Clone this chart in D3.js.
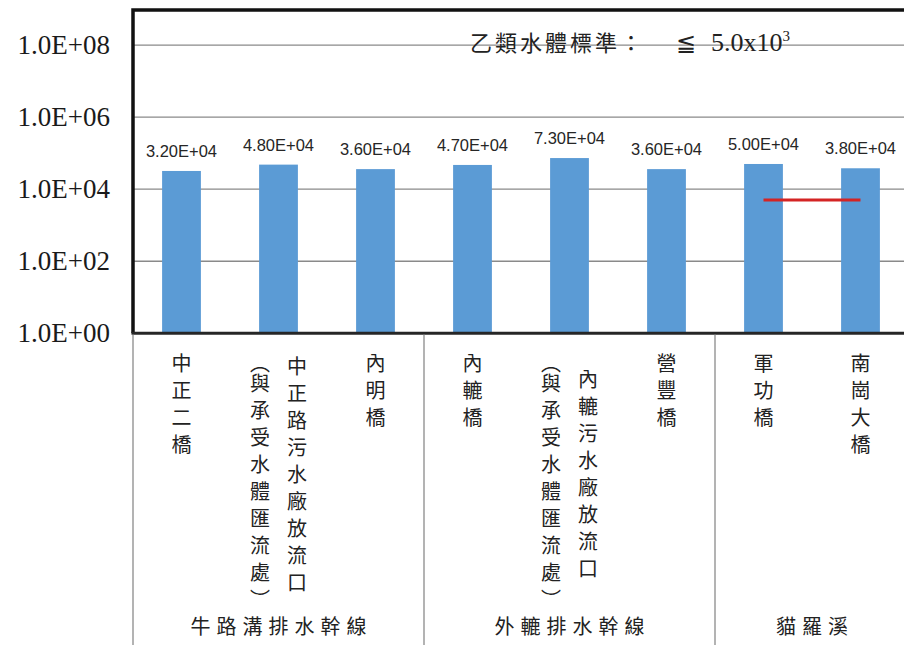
<!DOCTYPE html>
<html>
<head>
<meta charset="utf-8">
<script src="https://cdn.jsdelivr.net/npm/d3@7/dist/d3.min.js"></script>
<style>
    body { margin: 0; background: #ffffff; }
    svg { display: block; }
</style>
</head>
<body>
<svg id="chart" width="904" height="645"></svg>
<script>
// data
var categories = [
    "中正二橋",
    "中正路污水廠放流口\n（與承受水體匯流處）",
    "內明橋",
    "內轆橋",
    "內轆污水廠放流口\n（與承受水體匯流處）",
    "營豐橋",
    "軍功橋",
    "南崗大橋"
];
var values = [3.2e4, 4.8e4, 3.6e4, 4.7e4, 7.3e4, 3.6e4, 5.0e4, 3.8e4];
var groupNames = ["牛路溝排水幹線", "外轆排水幹線", "貓羅溪"];
var groupSizes = [3, 3, 2];
var yTicks = [1, 1e2, 1e4, 1e6, 1e8];
var standardValue = 5.0e3;
var standardFrom = "軍功橋";
var standardTo = "南崗大橋";

var svg = d3.select("#chart");

var plotLeft = 133, plotRight = 909, plotTop = 9, plotBottom = 333.3;

var x = d3.scaleBand()
    .domain(categories)
    .range([plotLeft, plotRight])
    .paddingInner(0.6)
    .paddingOuter(0.3);

var y = d3.scaleLog()
    .domain([1, 1e9])
    .range([plotBottom, plotTop]);

function sciLabel(v) {
    var parts = v.toExponential(2).split("e");
    var exp = parseInt(parts[1], 10);
    var sign = exp < 0 ? "-" : "+";
    var e = Math.abs(exp);
    return parts[0] + "E" + sign + (e < 10 ? "0" + e : e);
}

function tickLabel(v) {
    var exp = Math.round(Math.log10(v));
    return "1.0E+" + (exp < 10 ? "0" + exp : exp);
}

// gridlines
svg.append("g")
    .selectAll("line")
    .data(yTicks)
    .enter()
    .append("line")
    .attr("x1", plotLeft)
    .attr("x2", plotRight)
    .attr("y1", function (d) { return y(d); })
    .attr("y2", function (d) { return y(d); })
    .attr("stroke", "#8a8a8a")
    .attr("stroke-width", 1.3);

// y axis labels
var yAxis = svg.append("g")
    .attr("transform", "translate(" + plotLeft + ",0)")
    .call(d3.axisLeft(y).tickValues(yTicks).tickFormat(tickLabel).tickSize(0).tickPadding(23));
yAxis.select(".domain").remove();
yAxis.selectAll("text")
    .attr("font-family", "'Liberation Serif', 'DejaVu Serif', serif")
    .attr("font-size", "27px")
    .attr("fill", "#1a1a1a");

// standard text
var std = svg.append("text")
    .attr("y", 51)
    .attr("fill", "#222")
    .attr("font-family", "'Liberation Serif', serif");
std.append("tspan")
    .attr("x", 470)
    .attr("font-family", "'Noto Sans CJK TC', sans-serif")
    .attr("font-size", "22px")
    .attr("letter-spacing", "3px")
    .text("乙類水體標準：");
std.append("tspan")
    .attr("x", 676)
    .attr("font-size", "24px")
    .text("≦");
std.append("tspan")
    .attr("x", 711)
    .attr("font-size", "26px")
    .text("5.0x10");
std.append("tspan")
    .attr("font-size", "15px")
    .attr("dy", -10)
    .text("3");

// bars
svg.append("g")
    .selectAll("rect")
    .data(values)
    .enter()
    .append("rect")
    .attr("x", function (d, i) { return x(categories[i]); })
    .attr("width", x.bandwidth())
    .attr("y", function (d) { return y(d); })
    .attr("height", function (d) { return plotBottom - y(d); })
    .attr("fill", "#5b9bd5");

// data labels
svg.append("g")
    .selectAll("text")
    .data(values)
    .enter()
    .append("text")
    .attr("x", function (d, i) { return x(categories[i]) + x.bandwidth() / 2; })
    .attr("y", function (d) { return y(d) - 14; })
    .attr("text-anchor", "middle")
    .attr("font-family", "'Liberation Sans', Arial, sans-serif")
    .attr("font-size", "16.5px")
    .attr("fill", "#262626")
    .text(sciLabel);

// standard line
svg.append("line")
    .attr("x1", x(standardFrom) + x.bandwidth() / 2)
    .attr("x2", x(standardTo) + x.bandwidth() / 2)
    .attr("y1", y(standardValue))
    .attr("y2", y(standardValue))
    .attr("stroke", "#d42424")
    .attr("stroke-width", 3);

// plot border
svg.append("path")
    .attr("d", "M" + plotLeft + "," + plotBottom + "V" + (plotTop + 1) + "H" + (plotRight + 5))
    .attr("fill", "none")
    .attr("stroke", "#111")
    .attr("stroke-width", 3.5);
svg.append("line")
    .attr("x1", plotLeft - 1.5)
    .attr("x2", plotRight + 5)
    .attr("y1", plotBottom)
    .attr("y2", plotBottom)
    .attr("stroke", "#262626")
    .attr("stroke-width", 3);

// group separators and names
var groups = [];
var start = 0;
groupNames.forEach(function (name, i) {
    var first = categories[start];
    var last = categories[start + groupSizes[i] - 1];
    var gap = (x.step() - x.bandwidth()) / 2;
    groups.push({ name: name, x0: x(first) - gap, x1: x(last) + x.bandwidth() + gap });
    start += groupSizes[i];
});

svg.append("g")
    .selectAll("line")
    .data(groups.map(function (g) { return g.x0; }).concat([groups[groups.length - 1].x1]))
    .enter()
    .append("line")
    .attr("x1", function (d) { return d; })
    .attr("x2", function (d) { return d; })
    .attr("y1", plotBottom + 1.5)
    .attr("y2", 645)
    .attr("stroke", "#9a9a9a")
    .attr("stroke-width", 1.5);

svg.append("g")
    .selectAll("text")
    .data(groups)
    .enter()
    .append("text")
    .attr("x", function (d) { return (d.x0 + d.x1) / 2 + 3; })
    .attr("y", 634)
    .attr("text-anchor", "middle")
    .attr("font-family", "'Noto Sans CJK TC', sans-serif")
    .attr("font-size", "20px")
    .attr("letter-spacing", "6px")
    .attr("fill", "#222")
    .text(function (d) { return d.name; });

// vertical category labels, columns right to left
var colGap = 37;
var labelTop = 353;
categories.forEach(function (cat) {
    var cols = cat.split("\n");
    var cx = x(cat) + x.bandwidth() / 2;
    var g = svg.append("g");
    var texts = cols.map(function (col, j) {
        var t = g.append("text")
            .attr("x", cx + (cols.length - 1) / 2 * colGap - j * colGap)
            .attr("text-anchor", "middle")
            .attr("font-family", "'Noto Sans CJK TC', sans-serif")
            .attr("font-size", "20px")
            .attr("letter-spacing", "7px")
            .attr("fill", "#222")
            .style("writing-mode", "vertical-rl");
        // brackets sit tighter than the other characters
        col.split("").forEach(function (ch) {
            var s = t.append("tspan").text(ch);
            if (ch === "（") s.attr("letter-spacing", "0px");
            if (ch === "）") s.attr("letter-spacing", "-7px");
        });
        return t;
    });
    var longest = d3.max(texts, function (t) { return t.node().getComputedTextLength(); });
    texts.forEach(function (t) {
        t.attr("y", labelTop + longest / 2);
    });
});
</script>
</body>
</html>
